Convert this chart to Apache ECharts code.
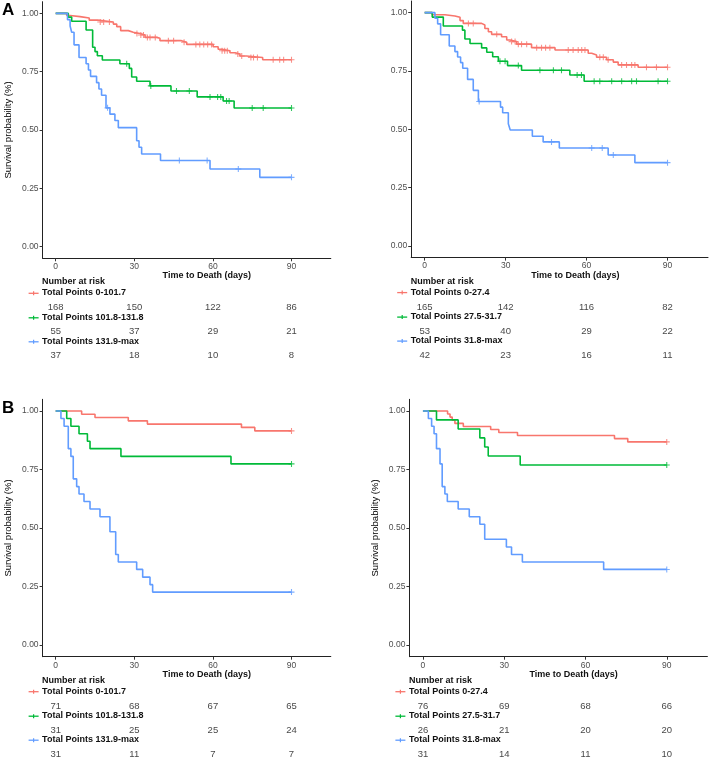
<!DOCTYPE html>
<html><head><meta charset="utf-8">
<script src="https://cdn.jsdelivr.net/npm/echarts@6/dist/echarts.min.js"></script>
<style>html,body{margin:0;padding:0;background:#fff}#c{width:709px;height:758px}</style>
</head><body><div id="c"></div>
<script>
// ---------- tick labels / categories ----------
const xTicks = [0, 30, 60, 90];
const yTicks = [0, 0.25, 0.5, 0.75, 1];
const riskTimes = [0, 30, 60, 90];
const groupColors = ['#F8766D', '#00BA38', '#619CFF'];
const labelsLeft = ['Total Points 0-101.7', 'Total Points 101.8-131.8', 'Total Points 131.9-max'];
const labelsRight = ['Total Points 0-27.4', 'Total Points 27.5-31.7', 'Total Points 31.8-max'];

// ---------- Panel A, left ----------
const aLRedT = [4.2, 5.5, 9.3, 12.8, 16, 22, 23.3, 24.8, 27.7, 29.6, 32.2, 34.1, 38.5, 39.8, 48, 50, 60.1, 62, 63.5, 66.5, 68.5, 70.3, 72.8, 79];
const aLRedS = [0.991, 0.986, 0.980, 0.971, 0.963, 0.954, 0.943, 0.926, 0.919, 0.914, 0.907, 0.897, 0.893, 0.883, 0.876, 0.867, 0.857, 0.846, 0.840, 0.831, 0.826, 0.817, 0.811, 0.801];
const aLRedC = [17, 18.3, 20.5, 31, 32.5, 33.5, 35, 36, 38, 43, 45, 49, 53.5, 55, 56.5, 58, 59.5, 63.5, 64.5, 65.5, 69.5, 71, 74.5, 75.5, 77, 83, 85.5, 87, 90];
const aLGreenT = [4.8, 6.1, 11.6, 14.1, 15, 15.9, 17.8, 24.5, 28.1, 29, 30.9, 36, 44, 54, 63.9, 68.1];
const aLGreenS = [0.984, 0.966, 0.929, 0.855, 0.836, 0.818, 0.800, 0.784, 0.764, 0.727, 0.709, 0.689, 0.667, 0.642, 0.624, 0.594];
const aLGreenC = [27.1, 36.3, 46.1, 51, 58.9, 61.8, 63, 65.2, 66.2, 75, 79.2, 90];
const aLBlueT = [4.5, 5.5, 6.1, 7.0, 8.9, 11.6, 12.5, 13.3, 15.6, 16.5, 17.5, 19.2, 20.7, 22.6, 23.9, 30.9, 31.8, 32.8, 40, 58.9, 77.9];
const aLBlueS = [0.973, 0.946, 0.919, 0.865, 0.811, 0.784, 0.757, 0.730, 0.703, 0.676, 0.649, 0.595, 0.568, 0.541, 0.510, 0.454, 0.426, 0.397, 0.369, 0.333, 0.297];
const aLBlueC = [19.8, 47.2, 57.8, 69.7, 90];
const aLRiskRed = [168, 150, 122, 86];
const aLRiskGreen = [55, 37, 29, 21];
const aLRiskBlue = [37, 18, 10, 8];

// ---------- Panel A, right ----------
const aRRedT = [2.8, 7.5, 11.2, 13.1, 14.3, 21.1, 22.3, 23.6, 24.8, 28.5, 30.4, 31.6, 34.1, 39.6, 48.3, 60.6, 61.9, 63.7, 67.4, 69.9, 71.7, 79.1];
const aRRedS = [0.991, 0.986, 0.980, 0.966, 0.954, 0.947, 0.932, 0.918, 0.907, 0.897, 0.883, 0.876, 0.865, 0.850, 0.840, 0.826, 0.819, 0.809, 0.798, 0.788, 0.776, 0.766];
const aRRedC = [16.2, 18, 26.7, 32.2, 33.5, 34.7, 35.9, 37.8, 41.5, 43.3, 44.8, 46.4, 53.2, 55, 56.9, 58.2, 59.4, 64.9, 66.2, 68, 73, 74.8, 76.7, 77.9, 82.2, 85.9, 90];
const aRGreenT = [2.8, 6.9, 14.0, 14.9, 16.8, 21.1, 23, 25.2, 27.3, 30.7, 35.9, 53.8, 59.1];
const aRGreenS = [0.981, 0.943, 0.925, 0.887, 0.868, 0.849, 0.830, 0.811, 0.792, 0.773, 0.753, 0.733, 0.706];
const aRGreenC = [27.9, 29.8, 34.7, 42.7, 47.7, 50.7, 56.5, 58.1, 62.8, 64.9, 69.3, 73, 76.7, 78.5, 86.5, 90];
const aRBlueT = [3.8, 4.8, 5.9, 9.1, 11.2, 12.2, 13.3, 14.1, 15.9, 18, 19.9, 28.1, 28.9, 31, 31.7, 39.9, 43.9, 49.9, 68, 77.9];
const aRBlueS = [0.976, 0.952, 0.905, 0.857, 0.833, 0.810, 0.786, 0.762, 0.714, 0.667, 0.619, 0.595, 0.571, 0.524, 0.497, 0.470, 0.446, 0.420, 0.390, 0.357];
const aRBlueC = [20.2, 47, 61.9, 65.8, 69.9, 90];
const aRRiskRed = [165, 142, 116, 82];
const aRRiskGreen = [53, 40, 29, 22];
const aRRiskBlue = [42, 23, 16, 11];

// ---------- Panel B, left ----------
const bLRedT = [9.9, 15, 27.7, 35, 70.9, 76];
const bLRedS = [0.986, 0.972, 0.958, 0.944, 0.930, 0.915];
const bLRedC = [90];
const bLGreenT = [4.2, 5.8, 8.9, 12.1, 13.1, 24.9, 66.9];
const bLGreenS = [0.968, 0.935, 0.903, 0.871, 0.839, 0.806, 0.774];
const bLGreenC = [90];
const bLBlueT = [2.0, 3.2, 4.8, 5.8, 6.7, 8.0, 8.9, 10.8, 13.1, 16.9, 20.7, 22.9, 23.9, 30.9, 33.2, 36.0, 37.0];
const bLBlueS = [0.968, 0.935, 0.839, 0.806, 0.710, 0.677, 0.645, 0.613, 0.581, 0.548, 0.484, 0.387, 0.355, 0.323, 0.290, 0.258, 0.226];
const bLBlueC = [90];
const bLRiskRed = [71, 68, 67, 65];
const bLRiskGreen = [31, 25, 25, 24];
const bLRiskBlue = [31, 11, 7, 7];

// ---------- Panel B, right ----------
const bRRedT = [9.1, 10, 10.8, 11.8, 14.9, 25, 28, 34.9, 70.7, 75.6];
const bRRedS = [0.987, 0.974, 0.961, 0.947, 0.934, 0.921, 0.908, 0.895, 0.882, 0.868];
const bRRedC = [90];
const bRGreenT = [5, 13, 21, 22.8, 24.1, 35.9];
const bRGreenS = [0.962, 0.923, 0.885, 0.846, 0.808, 0.769];
const bRGreenC = [90];
const bRBlueT = [2, 3.2, 4.1, 5, 6.3, 7.1, 8.1, 9, 13, 17.1, 21, 22.8, 30.8, 32.7, 36.7, 66.7];
const bRBlueS = [0.968, 0.935, 0.903, 0.839, 0.774, 0.677, 0.645, 0.613, 0.581, 0.548, 0.516, 0.452, 0.419, 0.387, 0.355, 0.323];
const bRBlueC = [90];
const bRRiskRed = [76, 69, 68, 66];
const bRRiskGreen = [26, 21, 20, 20];
const bRRiskBlue = [31, 14, 11, 10];

// ---------- layout (positions / styles only) ----------
const panels = [
  {grid: {left: 42.6, top: 1.7, width: 288.2, height: 256.6}, yName: true, letter: 'A', labels: labelsLeft,
   groups: [[aLRedT, aLRedS, aLRedC], [aLGreenT, aLGreenS, aLGreenC], [aLBlueT, aLBlueS, aLBlueC]],
   risk: [aLRiskRed, aLRiskGreen, aLRiskBlue]},
  {grid: {left: 411.2, top: 1.0, width: 296.8, height: 256.6}, yName: false, letter: null, labels: labelsRight,
   groups: [[aRRedT, aRRedS, aRRedC], [aRGreenT, aRGreenS, aRGreenC], [aRBlueT, aRBlueS, aRBlueC]],
   risk: [aRRiskRed, aRRiskGreen, aRRiskBlue]},
  {grid: {left: 42.6, top: 399.3, width: 288.2, height: 257.4}, yName: true, letter: 'B', labels: labelsLeft,
   groups: [[bLRedT, bLRedS, bLRedC], [bLGreenT, bLGreenS, bLGreenC], [bLBlueT, bLBlueS, bLBlueC]],
   risk: [bLRiskRed, bLRiskGreen, bLRiskBlue]},
  {grid: {left: 409.4, top: 399.3, width: 298, height: 257.4}, yName: true, letter: null, labels: labelsRight,
   groups: [[bRRedT, bRRedS, bRRedC], [bRGreenT, bRGreenS, bRGreenC], [bRBlueT, bRBlueS, bRBlueC]],
   risk: [bRRiskRed, bRRiskGreen, bRRiskBlue]}
];

const FONT = '"Liberation Sans Narrow", "Liberation Sans", Arial, sans-serif';
const BOLD = '"Liberation Sans", Arial, sans-serif';
const X_END = 90;

function stepData(T, S) {
  const d = [[0, 1]];
  for (let i = 0; i < T.length; i++) d.push([T[i], S[i]]);
  d.push([X_END, S[S.length - 1]]);
  return d;
}
function survAt(T, S, t) {
  let s = 1;
  for (let i = 0; i < T.length; i++) if (T[i] <= t) s = S[i];
  return s;
}
const plusPath = 'path://M-0.18,-1L0.18,-1L0.18,-0.18L1,-0.18L1,0.18L0.18,0.18L0.18,1L-0.18,1L-0.18,0.18L-1,0.18L-1,-0.18L-0.18,-0.18Z';

const grids = [], xAxes = [], yAxes = [], series = [], graphics = [];

panels.forEach((p, pi) => {
  const g = p.grid;
  const gb = g.top + g.height;
  const gi = grids.length;
  grids.push(Object.assign({outerBoundsMode: 'none', containLabel: false}, g));
  grids.push({outerBoundsMode: 'none', containLabel: false, left: g.left, width: g.width, top: gb + 37.5, height: 72});

  xAxes.push({
    gridIndex: gi, type: 'value', min: -5, max: 105,
    axisLine: {show: true, onZero: false, lineStyle: {color: '#222', width: 1}},
    axisTick: {show: true, length: 3, customValues: xTicks, lineStyle: {color: '#333'}},
    axisLabel: {show: true, customValues: xTicks, margin: 4, fontSize: 8.5, color: '#4D4D4D', fontFamily: FONT},
    splitLine: {show: false}
  });
  xAxes.push({gridIndex: gi + 1, type: 'value', min: -5, max: 105, show: false});

  yAxes.push({
    gridIndex: gi, type: 'value', min: -0.05, max: 1.05,
    name: p.yName ? 'Survival probability (%)' : '', nameLocation: 'middle', nameGap: 29,
    nameTextStyle: {fontSize: 9.5, color: '#000', fontFamily: FONT},
    axisLine: {show: true, onZero: false, lineStyle: {color: '#222', width: 1}},
    axisTick: {show: true, length: 3, customValues: yTicks, lineStyle: {color: '#333'}},
    axisLabel: {show: true, customValues: yTicks, margin: 4, fontSize: 8.5, color: '#4D4D4D', fontFamily: FONT,
      formatter: v => v.toFixed(2)},
    splitLine: {show: false}
  });
  yAxes.push({gridIndex: gi + 1, type: 'value', min: -0.5, max: 2.5, inverse: true, show: false});

  p.groups.forEach((grp, k) => {
    const [T, S, C] = grp;
    series.push({
      type: 'line', xAxisIndex: gi, yAxisIndex: gi, step: 'end', showSymbol: false, symbol: 'none',
      data: stepData(T, S), lineStyle: {color: groupColors[k], width: 1.6}, z: 2 + k, animation: false
    });
    series.push({
      type: 'scatter', xAxisIndex: gi, yAxisIndex: gi, symbol: plusPath, symbolSize: 6,
      data: C.map(t => [t, survAt(T, S, t)]), itemStyle: {color: groupColors[k]}, z: 2 + k, animation: false
    });
  });

  const riskData = [];
  p.risk.forEach((row, k) => row.forEach((v, j) => riskData.push([riskTimes[j], k, v])));
  series.push({
    type: 'scatter', xAxisIndex: gi + 1, yAxisIndex: gi + 1, symbolSize: 0.1, silent: true, animation: false,
    itemStyle: {color: 'rgba(0,0,0,0)'},
    label: {show: true, position: 'inside', formatter: o => String(o.value[2]), fontSize: 9.5, color: '#111', fontFamily: FONT},
    data: riskData
  });

  // texts
  graphics.push({type: 'text', left: g.left + 164 - 44, top: gb + 18 - 5,
    style: {text: 'Time to Death (days)', font: 'bold 9px ' + BOLD, fill: '#111'}});
  graphics.push({type: 'text', left: g.left - 0.5, top: gb + 24 - 5,
    style: {text: 'Number at risk', font: 'bold 9px ' + BOLD, fill: '#111'}});
  const legY = [35, 59.5, 83.5];
  p.labels.forEach((lab, k) => {
    const y = gb + legY[k];
    graphics.push({type: 'line', shape: {x1: g.left - 14, y1: y, x2: g.left - 4, y2: y}, style: {stroke: groupColors[k], lineWidth: 1.3}});
    graphics.push({type: 'line', shape: {x1: g.left - 9, y1: y - 2, x2: g.left - 9, y2: y + 2}, style: {stroke: groupColors[k], lineWidth: 1.2}});
    graphics.push({type: 'text', left: g.left - 0.5, top: y - 5,
      style: {text: lab, font: 'bold 9px ' + BOLD, fill: '#111'}});
  });
  if (p.letter) {
    graphics.push({type: 'text', left: 2, top: g.top + 0.5,
      style: {text: p.letter, font: 'bold 17px ' + BOLD, fill: '#000'}});
  }
});

const chart = echarts.init(document.getElementById('c'), null, {renderer: 'canvas'});
chart.setOption({
  animation: false,
  backgroundColor: '#fff',
  grid: grids, xAxis: xAxes, yAxis: yAxes, series: series, graphic: graphics
});
</script></body></html>
